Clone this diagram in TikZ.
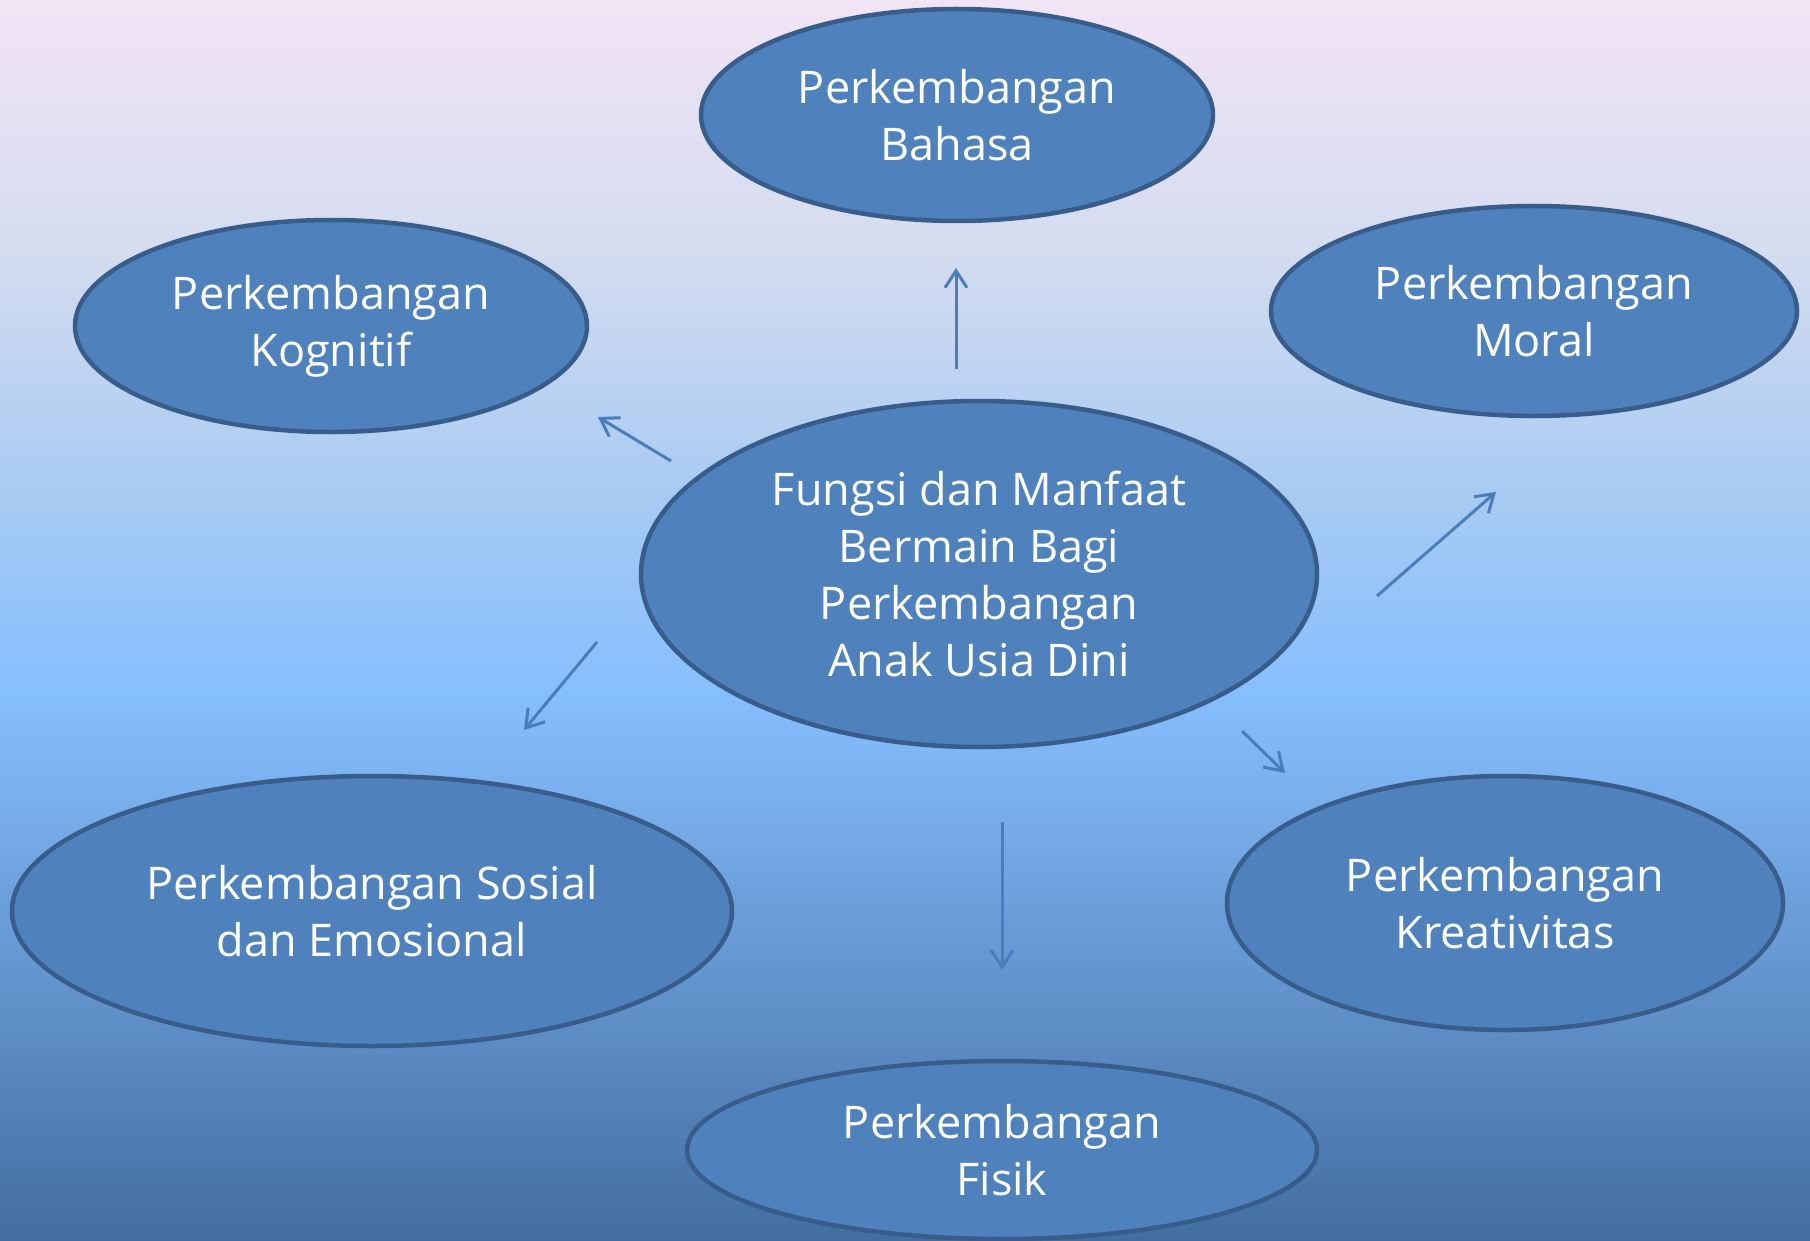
\documentclass[tikz,border=0pt]{standalone}
\usepackage{fontspec}
\setmainfont{Open Sans}
\usetikzlibrary{shapes.geometric,arrows.meta}

\definecolor{bgA}{HTML}{F2E4F5}
\definecolor{bgB}{HTML}{D4DCEF}
\definecolor{bgC}{HTML}{A7CAF2}
\definecolor{bgD}{HTML}{86BFFF}
\definecolor{bgE}{HTML}{436EA0}
\definecolor{ovalfill}{HTML}{4F81BD}
\definecolor{ovaledge}{HTML}{385D8A}
\definecolor{arrowcol}{HTML}{4A7EBB}

\tikzset{
  topic/.style={ellipse, draw=ovaledge, line width=4.5pt, fill=ovalfill,
    inner sep=0pt, text=white, align=center,
    font=\fontsize{45}{57}\selectfont},
  link/.style={draw=arrowcol, line width=3pt,
    -{Straight Barb[length=17pt,width=22pt,line width=3pt]}},
}

\begin{document}
\begin{tikzpicture}[x=1pt,y=-1pt]
  % page frame and layered background gradient
  \useasboundingbox (0,0) rectangle (1810,1241);
  \shade[top color=bgA, bottom color=bgB] (0,0) rectangle (1810,251);
  \shade[top color=bgB, bottom color=bgC] (0,250) rectangle (1810,501);
  \shade[top color=bgC, bottom color=bgD] (0,500) rectangle (1810,691);
  \shade[top color=bgD, bottom color=bgE] (0,690) rectangle (1810,1241);

  % central topic and its six branches
  \node[topic, minimum width=676pt, minimum height=346pt] (pusat) at (979,574)
    {Fungsi dan Manfaat\\Bermain Bagi\\Perkembangan\\Anak Usia Dini};
  \node[topic, minimum width=512pt, minimum height=212pt] (bahasa) at (957,115)
    {Perkembangan\\Bahasa};
  \node[topic, minimum width=512pt, minimum height=212pt] (kognitif) at (331,326)
    {Perkembangan\\Kognitif};
  \node[topic, minimum width=526pt, minimum height=210pt] (moral) at (1534,311)
    {Perkembangan\\Moral};
  \node[topic, minimum width=720pt, minimum height=270pt] (sosial) at (372,911)
    {Perkembangan Sosial\\dan Emosional};
  \node[topic, minimum width=556pt, minimum height=254pt] (kreatif) at (1505,903)
    {Perkembangan\\Kreativitas};
  \node[topic, minimum width=630pt, minimum height=178pt] (fisik) at (1002,1150)
    {Perkembangan\\Fisik};

  % arrow end points
  \coordinate (aB1) at (956,369);  \coordinate (aB2) at (956,268);
  \coordinate (aK1) at (671,461);  \coordinate (aK2) at (598,417);
  \coordinate (aM1) at (1377,596); \coordinate (aM2) at (1496,492);
  \coordinate (aR1) at (1242,731); \coordinate (aR2) at (1285,773);
  \coordinate (aF1) at (1002,822); \coordinate (aF2) at (1002,970);
  \coordinate (aS1) at (597,642);  \coordinate (aS2) at (524,730);

  \draw[link] (aB1) -- (aB2);
  \draw[link] (aK1) -- (aK2);
  \draw[link] (aM1) -- (aM2);
  \draw[link] (aR1) -- (aR2);
  \draw[link] (aF1) -- (aF2);
  \draw[link] (aS1) -- (aS2);
\end{tikzpicture}
\end{document}
